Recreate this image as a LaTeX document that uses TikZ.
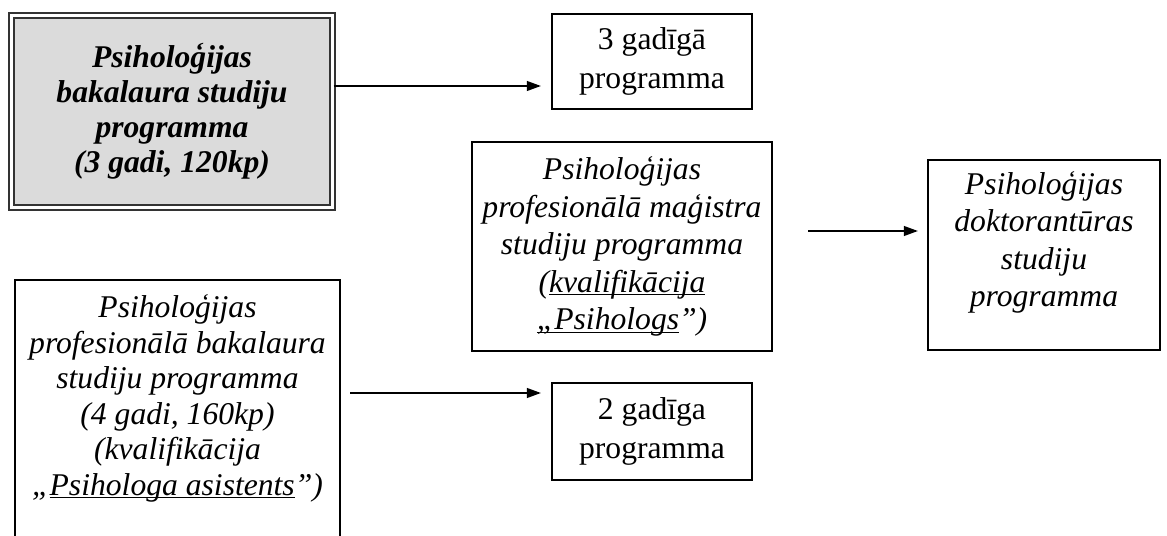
\documentclass[tikz,border=0pt]{standalone}
\usepackage{fontspec}
\setmainfont{Liberation Serif}
\usetikzlibrary{arrows.meta}
\newcommand{\wordul}[1]{\underline{\smash{#1}}}
\begin{document}
\begin{tikzpicture}[x=0.02cm, y=-0.02cm, thick,
    main/.style = {draw, align=center, inner sep=0pt, font=\fontsize{18}{21.3}\selectfont\itshape},
    plain/.style = {main, font=\fontsize{18}{22}\selectfont},
    start/.style = {main, draw=black!80, line width=1.4pt, double=white, double distance=1.2pt,
                    fill=black!14, font=\fontsize{18}{20}\selectfont\bfseries\itshape},
    arr/.style = {line width=1.1pt, -{Triangle[length=8pt, width=5.5pt]}}]
    \useasboundingbox (0,0) rectangle (1167,536);

    \node[start] (1) at (172,111.5) [minimum width=6.42cm, minimum height=3.84cm]
        {Psiholoģijas\\ bakalaura studiju\\ programma\\ (3 gadi, 120kp)};
    \node[plain] (2) at (652,61.5)  [minimum width=4cm, minimum height=1.9cm]
        {3 gadīgā\\ programma};
    \node[main]  (3) at (622,246.5) [minimum width=6cm, minimum height=4.18cm]
        {Psiholoģijas\\ profesionālā maģistra\\ studiju programma\\ (\wordul{kvalifikācija}\\ \wordul{„Psihologs}”)};
    \node[main]  (4) at (1044,255)  [minimum width=4.64cm, minimum height=3.8cm, text depth=18pt]
        {Psiholoģijas\\ doktorantūras\\ studiju\\ programma};
    \node[main]  (5) at (177.5,412.5) [minimum width=6.5cm, minimum height=5.3cm,
                                       font=\fontsize{18}{20.2}\selectfont\itshape, text depth=20pt]
        {Psiholoģijas\\ profesionālā bakalaura\\ studiju programma\\ (4 gadi, 160kp)\\ (kvalifikācija\\ „\wordul{Psihologa asistents}”)};
    \node[plain] (6) at (652,431.5) [minimum width=4cm, minimum height=1.94cm]
        {2 gadīga\\ programma};

    \coordinate (a1) at (541,86);
    \coordinate (a2s) at (808,231);
    \coordinate (a2e) at (918,231);
    \coordinate (a3s) at (350,393);
    \coordinate (a3e) at (541,393);

    \draw[arr] (1.east |- a1) -- (a1);
    \draw[arr] (a2s) -- (a2e);
    \draw[arr] (a3s) -- (a3e);
\end{tikzpicture}
\end{document}
